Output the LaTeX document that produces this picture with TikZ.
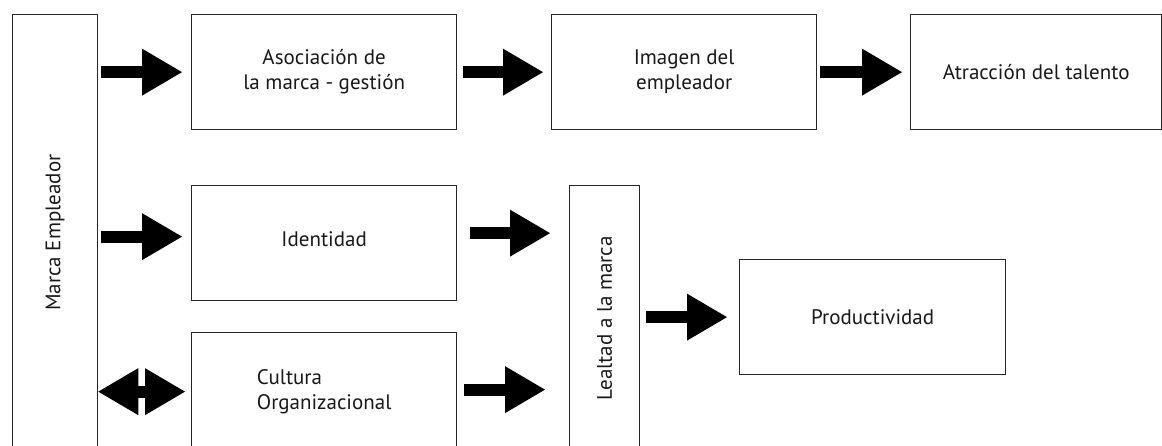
\documentclass[tikz,border=0pt]{standalone}
\usepackage{fontspec}
\setmainfont{PT Sans}
\usetikzlibrary{arrows.meta}

\tikzset{
  box/.style={draw=black!85, line width=1.3pt, fill=white, inner sep=0pt,
    anchor=north west, align=center, text=black!90,
    font=\fontsize{21}{25}\selectfont},
  blk/.style={line width=12pt, draw=black,
    -{Triangle[length=40pt, width=47pt, line width=0pt]},
    shorten <=3pt, shorten >=9pt},
  dblk/.style={line width=12pt, draw=black,
    {Triangle[length=40pt, width=47pt, line width=0pt]}-{Triangle[length=40pt, width=47pt, line width=0pt]}},
}

\begin{document}
\begin{tikzpicture}[x=1pt, y=-1pt]
  \clip (0,0) rectangle (1162,446);
  \fill[white] (0,0) rectangle (1162,446);

  % cajas
  \node[box, minimum width=85pt, minimum height=436pt,
    label={[rotate=90, font=\fontsize{21}{25}\selectfont, text=black!90]center:Marca Empleador}]
    (marca) at (12,14) {};
  \node[box, minimum width=265pt, minimum height=115pt] (asoc) at (191,14)
    {Asociación de\\la marca - gestión};
  \node[box, minimum width=265pt, minimum height=115pt] (imagen) at (551,14)
    {Imagen del\\empleador};
  \node[box, minimum width=251pt, minimum height=115pt] (atrac) at (910,14)
    {Atracción del talento};
  \node[box, minimum width=265pt, minimum height=115pt] (ident) at (191,185)
    {\raisebox{8pt}{Identidad}};
  \node[box, minimum width=265pt, minimum height=118pt] (cultura) at (191,332)
    {\begin{tabular}{@{}l@{}}Cultura\\Organizacional\end{tabular}};
  \node[box, minimum width=70pt, minimum height=265pt,
    label={[rotate=90, font=\fontsize{21}{25}\selectfont, text=black!90]center:Lealtad a la marca}]
    (lealtad) at (569,185) {};
  \node[box, minimum width=266pt, minimum height=115pt] (prod) at (739,259)
    {Productividad};

  % flechas
  \begin{scope}[blk]
    \draw (marca.east |- asoc.west) to (asoc.west);
    \draw[shorten <=6pt, shorten >=8pt] (asoc) to (imagen);
    \draw[shorten >=8pt] (imagen) to (atrac);
    \draw ([yshift=6.5pt]marca.east |- ident.west) to ([yshift=6.5pt]ident.west);
    \draw[shorten <=13pt, shorten >=19pt] ([yshift=10pt]ident.east) to ([yshift=10pt]ident.east -| lealtad.west);
    \draw[shorten <=7pt, shorten >=24pt] ([yshift=2pt]cultura.east) to ([yshift=2pt]cultura.east -| lealtad.west);
    \draw[shorten <=6pt, shorten >=12pt] (lealtad.east |- prod.west) to (prod.west);
  \end{scope}
  \draw[dblk, shorten >=6pt] (marca.east |- cultura.west) to (cultura.west);
\end{tikzpicture}
\end{document}
